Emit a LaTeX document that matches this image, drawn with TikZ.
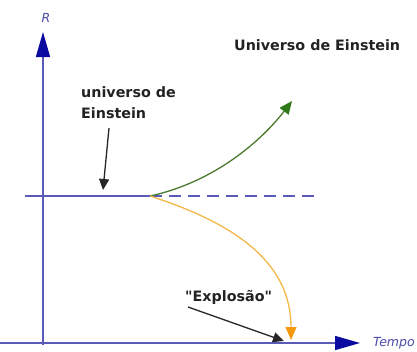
\documentclass[tikz,border=0pt]{standalone}
\usepackage{fontspec}
\setmainfont{DejaVu Sans}[Ligatures=TeXOff]
\usetikzlibrary{arrows.meta}
\definecolor{axisline}{HTML}{5A5AB8}
\definecolor{axishead}{HTML}{0A0AA0}
\definecolor{labblue}{HTML}{4A4AA8}
\definecolor{greenline}{HTML}{4A7A30}
\definecolor{greenhead}{HTML}{2E7A18}
\definecolor{orangeline}{HTML}{F5B848}
\definecolor{orangehead}{HTML}{F59A10}
\definecolor{txt}{HTML}{222222}
\tikzset{
  axis/.style={draw=axisline, line width=1.5pt, -{Triangle[length=25pt,width=14pt,color=axishead]}},
  lbl/.style={font=\bfseries\fontsize{14.3}{21}\selectfont, text=txt, align=left, inner sep=0pt},
  axlbl/.style={font=\itshape\fontsize{12.5}{14}\selectfont, text=labblue, inner sep=0pt},
  pointer/.style={draw=black!85, line width=1.3pt, -{Triangle[length=11pt,width=10pt]}}
}
\begin{document}
\begin{tikzpicture}[x=1pt,y=-1pt]
\useasboundingbox (0,0) rectangle (417,351);
% axes
\coordinate (ybot) at (43,345);
\coordinate (ytop) at (43,32);
\coordinate (xleft) at (0,343);
\coordinate (xright) at (360,343);
\draw[axis] (ybot) -- (ytop);
\draw[axis] (xleft) -- (xright);
\node[axlbl] (R) at (46,18) {R};
\node[axlbl, anchor=west] (T) at (373,343) {Tempo};
% Einstein static line
\coordinate (lstart) at (25,196);
\coordinate (O) at (150,196);
\coordinate (dend) at (316,196);
\draw[axisline, line width=1.5pt] (lstart) -- (O);
\draw[axisline, line width=1.5pt, dash pattern=on 12pt off 7pt] (O) -- (dend);
% expanding (green)
\coordinate (gtip) at (292,101);
\draw[greenline, line width=1.3pt, -{Triangle[length=13pt,width=11pt,color=greenhead]}]
  (O) .. controls (215,182) and (262,140) .. (gtip);
% collapsing (orange)
\coordinate (otip) at (291,340);
\draw[orangeline, line width=1.3pt, -{Triangle[length=13pt,width=11pt,color=orangehead]}]
  (O) .. controls (240,225) and (291,265) .. (otip);
% labels
\node[lbl, anchor=west] (title) at (234,45) {Universo de Einstein};
\node[lbl, anchor=west] (ue) at (81,103) {universo de\\Einstein};
\coordinate (uestart) at (109,128);
\coordinate (uetip) at (103,190);
\draw[pointer] (uestart) -- (uetip);
\node[lbl, anchor=west] (ex) at (185,297) {"Explosão"};
\coordinate (exstart) at (188,307);
\coordinate (extip) at (284,341);
\draw[pointer] (exstart) -- (extip);
\end{tikzpicture}
\end{document}
